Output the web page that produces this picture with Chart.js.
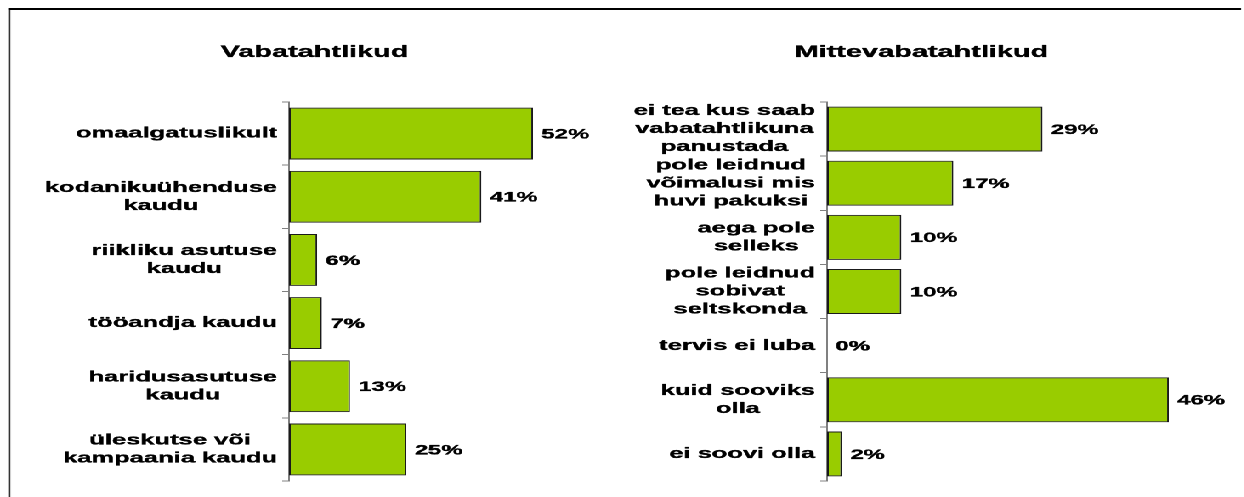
<!DOCTYPE html>
<html lang="et">
<head>
<meta charset="utf-8">
<script src="https://cdn.jsdelivr.net/npm/chart.js@4/dist/chart.umd.min.js"></script>
<style>
    html, body { margin: 0; padding: 0; background: #fff; overflow: hidden; }
    #stage {
        position: relative;
        width: 732px;
        height: 497px;
        transform: scaleX(1.7);
        transform-origin: 0 0;
    }
    .frame {
        position: absolute;
        left: 4.5px;
        top: 7.5px;
        width: 724px;
        height: 600px;
        border-top: 2px solid #000;
        border-left: 1.5px solid #000;
    }
    canvas { position: absolute; top: 0; }
    #chartVaba { left: 0; }
    #chartMitte { left: 366px; }
</style>
</head>
<body>
<div id="stage">
    <div class="frame"></div>
    <canvas id="chartVaba" width="366" height="497"></canvas>
    <canvas id="chartMitte" width="366" height="497"></canvas>
</div>
<script>
'use strict';

const vabaTitle = 'Vabatahtlikud';
const vabaLabels = [
    ['omaalgatuslikult'],
    ['kodanikuühenduse', 'kaudu'],
    ['riikliku asutuse', 'kaudu'],
    ['tööandja kaudu'],
    ['haridusasutuse', 'kaudu'],
    ['üleskutse või', 'kampaania kaudu']
];
const vabaValues = [52, 41, 6, 7, 13, 25];

const mitteTitle = 'Mittevabatahtlikud';
const mitteLabels = [
    ['ei tea kus saab', 'vabatahtlikuna', 'panustada'],
    ['pole leidnud', 'võimalusi mis', 'huvi pakuksi'],
    ['aega pole', 'selleks'],
    ['pole leidnud', 'sobivat', 'seltskonda'],
    ['tervis ei luba'],
    ['kuid sooviks', 'olla'],
    ['ei soovi olla']
];
const mitteValues = [29, 17, 10, 10, 0, 46, 2];

const FONT = '"Liberation Sans", Arial, sans-serif';
const BAR_GREEN = '#99cc00';
const AXIS_GRAY = '#808080';

// bold text with a hairline stroke so it reads as heavy as the original
function heavyText(ctx, text, x, y) {
    ctx.fillText(text, x, y);
    ctx.strokeText(text, x, y);
}

function textStyle(ctx, size, align) {
    ctx.font = `bold ${size}px ${FONT}`;
    ctx.fillStyle = '#000';
    ctx.strokeStyle = '#000';
    ctx.lineWidth = 0.35;
    ctx.lineJoin = 'round';
    ctx.textAlign = align;
}

// panel heading, drawn at a fixed centre x
const panelTitlePlugin = {
    id: 'panelTitle',
    afterDraw(chart, args, opts) {
        const ctx = chart.ctx;
        ctx.save();
        textStyle(ctx, 17, 'center');
        ctx.textBaseline = 'alphabetic';
        heavyText(ctx, opts.text, opts.x, opts.y);
        ctx.restore();
    }
};

// category labels: lines centred inside a block that is right-aligned to the axis
const blockLabelsPlugin = {
    id: 'blockLabels',
    afterDraw(chart, args, opts) {
        const ctx = chart.ctx;
        const scale = chart.scales.y;
        const labels = chart.data.labels;
        const lineHeight = 18;
        ctx.save();
        textStyle(ctx, 15, 'center');
        ctx.textBaseline = 'middle';
        labels.forEach((lines, i) => {
            const widest = Math.max(...lines.map(line => ctx.measureText(line).width));
            const cx = scale.right - opts.gap - widest / 2;
            const y0 = scale.getPixelForTick(i) - (lines.length - 1) * lineHeight / 2;
            lines.forEach((line, j) => heavyText(ctx, line, cx, y0 + j * lineHeight));
        });
        ctx.restore();
    }
};

// value labels right of each bar
const valueLabelsPlugin = {
    id: 'valueLabels',
    afterDatasetsDraw(chart) {
        const ctx = chart.ctx;
        const meta = chart.getDatasetMeta(0);
        const values = chart.data.datasets[0].data;
        ctx.save();
        textStyle(ctx, 14, 'left');
        ctx.textBaseline = 'middle';
        meta.data.forEach((bar, i) => {
            heavyText(ctx, `${values[i]}%`, bar.x + 5, bar.y + 1);
        });
        ctx.restore();
    }
};

function makePanel({ canvasId, title, titleX, labels, values, axisX, xMax, rightPad, barPercentage }) {
    return new Chart(document.getElementById(canvasId), {
        type: 'bar',
        data: {
            labels,
            datasets: [{
                data: values,
                backgroundColor: BAR_GREEN,
                borderColor: '#1a1a1a',
                borderWidth: 1,
                borderSkipped: false,
                categoryPercentage: 1,
                barPercentage
            }]
        },
        options: {
            indexAxis: 'y',
            responsive: false,
            animation: false,
            devicePixelRatio: 2,
            layout: { padding: { left: 0, right: rightPad, top: 102, bottom: 16 } },
            scales: {
                x: { display: false, min: 0, max: xMax },
                y: {
                    afterFit: scale => { scale.width = axisX; },
                    ticks: { display: false },
                    grid: {
                        display: true,
                        offset: true,
                        drawOnChartArea: false,
                        drawTicks: true,
                        tickLength: 4,
                        color: AXIS_GRAY,
                        lineWidth: 1
                    },
                    border: { display: true, color: AXIS_GRAY, width: 1 }
                }
            },
            plugins: {
                legend: { display: false },
                tooltip: { enabled: false },
                title: { display: false },
                panelTitle: { text: title, x: titleX, y: 57 },
                blockLabels: { gap: 7 }
            }
        },
        plugins: [panelTitlePlugin, blockLabelsPlugin, valueLabelsPlugin]
    });
}

makePanel({
    canvasId: 'chartVaba',
    title: vabaTitle,
    titleX: 185,
    labels: vabaLabels,
    values: vabaValues,
    axisX: 170,
    xMax: 60,
    rightPad: 30.4,
    barPercentage: 0.82
});

makePanel({
    canvasId: 'chartMitte',
    title: mitteTitle,
    titleX: 176,
    labels: mitteLabels,
    values: mitteValues,
    axisX: 120.5,
    xMax: 50,
    rightPad: 27,
    barPercentage: 0.83
});
</script>
</body>
</html>
